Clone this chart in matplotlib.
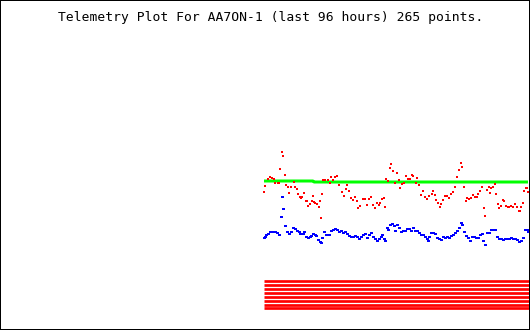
import matplotlib
matplotlib.use('Agg')
import matplotlib.pyplot as plt

title = 'Telemetry Plot For AA7ON-1 (last 96 hours) 265 points.'
npoints = 265

# analog channel 1 (red)
red_idx = [0, 1, 4, 6, 8, 10, 11, 14, 15, 16, 18, 19, 21, 22, 24, 25, 27, 30, 31, 33,
           34, 36, 37, 38, 40, 42, 43, 44, 46, 48, 49, 50, 51, 53, 55, 56, 57, 58, 59, 61,
           64, 66, 67, 69, 71, 73, 75, 78, 80, 82, 83, 85, 87, 89, 91, 93, 94, 96, 99, 101,
           103, 105, 107, 109, 111, 113, 115, 116, 118, 120, 121, 122, 124, 126, 127, 129, 131, 133, 135, 136,
           138, 140, 142, 144, 146, 148, 149, 152, 153, 155, 157, 159, 161, 163, 165, 168, 169, 171, 172, 174,
           176, 177, 179, 181, 183, 185, 187, 189, 191, 193, 195, 197, 198, 200, 202, 203, 205, 207, 209, 211,
           213, 214, 216, 218, 220, 221, 223, 225, 226, 227, 229, 231, 232, 234, 235, 237, 239, 240, 242, 244,
           245, 247, 249, 251, 253, 255, 256, 257, 259, 260, 262, 263, 264]
red_val = [138, 144, 151, 153, 152, 151, 147, 147, 147, 161, 178, 174, 155, 145, 143, 137, 143, 148, 143, 141,
           136, 133, 132, 133, 137, 129, 129, 124, 126, 129, 134, 128, 127, 126, 123, 129, 112, 136, 150, 150,
           150, 147, 153, 150, 153, 154, 145, 138, 134, 141, 145, 139, 132, 130, 133, 129, 122, 124, 131, 131,
           125, 131, 133, 125, 122, 127, 125, 127, 131, 132, 123, 151, 149, 162, 166, 159, 147, 157, 150, 142,
           146, 147, 154, 151, 151, 155, 154, 147, 152, 145, 135, 139, 133, 131, 134, 136, 139, 135, 130, 127,
           123, 126, 130, 134, 134, 132, 136, 138, 143, 153, 160, 167, 163, 143, 129, 132, 131, 132, 135, 133,
           133, 136, 139, 143, 122, 114, 140, 143, 137, 142, 143, 146, 136, 126, 122, 124, 130, 129, 124, 123,
           123, 124, 123, 126, 123, 119, 119, 123, 127, 139, 142, 142, 138]

# analog channel 2 (blue)
blue_idx = [0, 1, 2, 4, 6, 9, 11, 13, 15, 17, 18, 19, 21, 23, 25, 27, 29, 31, 33, 35,
            36, 39, 40, 42, 44, 46, 47, 49, 51, 52, 54, 56, 57, 58, 60, 62, 65, 67, 69, 71,
            73, 75, 77, 79, 81, 83, 85, 87, 89, 91, 93, 95, 97, 99, 101, 103, 105, 107, 109, 111,
            113, 115, 117, 118, 120, 121, 123, 124, 126, 128, 130, 131, 133, 135, 137, 139, 141, 143, 145, 147,
            149, 151, 153, 155, 157, 159, 161, 163, 164, 165, 167, 169, 171, 173, 175, 177, 179, 181, 183, 185,
            187, 189, 191, 193, 195, 197, 198, 200, 202, 204, 206, 208, 210, 212, 214, 216, 218, 219, 221, 223,
            225, 227, 229, 231, 233, 235, 237, 239, 241, 243, 245, 247, 249, 251, 253, 255, 257, 259, 261, 263,
            264]
blue_val = [92, 93, 95, 96, 98, 98, 98, 97, 95, 113, 133, 121, 104, 98, 96, 98, 102, 101, 99, 98,
            96, 96, 98, 93, 92, 93, 94, 96, 95, 94, 90, 88, 87, 92, 98, 95, 95, 99, 100, 101,
            100, 98, 99, 97, 98, 96, 94, 93, 93, 94, 93, 91, 93, 95, 96, 92, 95, 97, 93, 91,
            89, 91, 93, 95, 91, 89, 102, 100, 105, 106, 104, 99, 105, 102, 98, 99, 99, 101, 101, 99,
            102, 99, 99, 97, 95, 95, 93, 91, 89, 93, 97, 97, 96, 92, 91, 90, 93, 92, 93, 92,
            94, 95, 97, 99, 102, 107, 105, 98, 94, 92, 89, 93, 93, 92, 92, 95, 96, 89, 85, 97,
            97, 100, 100, 100, 93, 91, 91, 90, 91, 91, 91, 92, 91, 91, 90, 88, 89, 92, 100, 100,
            98]

# analog channel 3 (green)
green_idx = [0, 49, 50, 264]
green_val = [149, 149, 148, 148]

# digital bits, one row each
bit_rows = [48.6, 44.7, 40.9, 37.0, 33.2, 29.3, 25.5, 21.6]

px = 72.0 / 100  # one pixel in points

fig = plt.figure(figsize=(5.3, 3.3), dpi=100)
ax = fig.add_axes([0, 0, 1, 1])
ax.set_xlim(-264, 266)
ax.set_ylim(0, 330)

for lev in bit_rows:
    ax.plot([0, npoints], [lev, lev], color='#ff0000', lw=2.7 * px, solid_capstyle='butt')

ax.plot(green_idx, green_val, color='#00ff00', lw=3 * px, solid_capstyle='butt')
# points are a bit wider than tall in the original
ax.plot(red_idx, red_val, 'o', marker=[(-1.5, -1), (1.5, -1), (1.5, 1), (-1.5, 1)],
        color='#ff0000', ms=2.6 * px, mew=0, ls='none')
ax.plot(blue_idx, blue_val, 'o', marker=[(-1.5, -1), (1.5, -1), (1.5, 1), (-1.5, 1)],
        color='#0000ff', ms=3 * px, mew=0, ls='none')

ax.text(7, 312.5, title, ha='center', va='center', family='DejaVu Sans Mono',
        fontsize=9.4, color='black')

ax.set_xticks([])
ax.set_yticks([])
for s in ax.spines.values():
    s.set_linewidth(2 * px)
    s.set_color('black')

plt.savefig('out.png', dpi=100)
